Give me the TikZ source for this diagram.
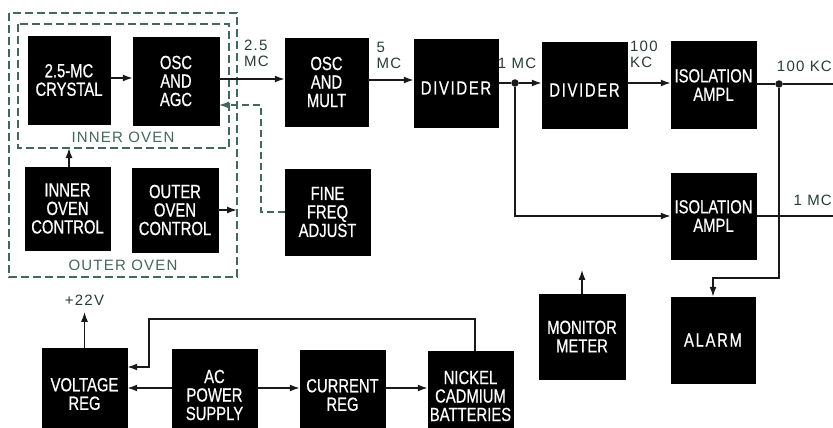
\documentclass[tikz,border=0pt]{standalone}
\usepackage{fontspec}
\setmainfont{Liberation Sans}
\newfontfamily\boxfont{Liberation Sans}[FakeStretch=0.78,FakeBold=0.6]
\newfontfamily\labfont{Liberation Sans}[LetterSpace=8]
\usetikzlibrary{arrows.meta}
\definecolor{ovencol}{rgb}{0.27,0.40,0.37}
\definecolor{labcol}{rgb}{0.16,0.24,0.22}
\definecolor{linecol}{rgb}{0.1,0.1,0.1}
\tikzset{
  blk/.style={fill=black,draw=black,text=white,align=center,inner sep=0pt,
    font=\boxfont\fontsize{19}{18.5}\selectfont},
  wide/.style={font=\boxfont\fontsize{19}{18.5}\selectfont\addfontfeature{LetterSpace=9}},
  lowtext/.style={execute at begin node={\rule{0pt}{23pt}}},
  conn/.style={draw=linecol,line width=1.6pt},
  arr/.style={conn,-{Latex[length=10pt,width=7pt]}},
  ovenbox/.style={draw=ovencol,line width=1.4pt,dash pattern=on 8pt off 4pt},
  dl/.style={draw=ovencol,line width=1.3pt,dash pattern=on 7pt off 4pt,-{Latex[length=10pt,width=7pt]}},
  ovenlab/.style={text=ovencol,font=\labfont\fontsize{15}{17}\selectfont,inner sep=0pt},
  lab/.style={text=labcol,font=\labfont\fontsize{15}{16}\selectfont,inner sep=0pt,align=left},
  dot/.style={circle,fill=linecol,minimum size=7.5pt,inner sep=0pt}
}
\begin{document}
\begin{tikzpicture}[x=1pt,y=-1pt]
\clip (0,0) rectangle (833,428);
\fill[white] (0,0) rectangle (833,428);
% oven enclosures
\draw[ovenbox] (9,13) rectangle (237,277);
\draw[ovenbox] (18,24) rectangle (229,148);
\node[ovenlab] (innerlab) at (123,137) {INNER OVEN};
\node[ovenlab] (outerlab) at (123,265) {OUTER OVEN};
% blocks
\node[blk,lowtext,minimum width=82pt,minimum height=88pt] (crystal) at (69,80) {2.5-MC\\CRYSTAL};
\node[blk,lowtext,minimum width=86pt,minimum height=88pt] (oscagc) at (176,81) {OSC\\AND\\AGC};
\node[blk,minimum width=85pt,minimum height=83pt] (innerctl) at (67.5,208.5) {INNER\\OVEN\\CONTROL};
\node[blk,minimum width=86pt,minimum height=84pt] (outerctl) at (175,210) {OUTER\\OVEN\\CONTROL};
\node[blk,lowtext,minimum width=83pt,minimum height=88pt] (oscmult) at (326.5,82) {OSC\\AND\\MULT};
\node[blk,minimum width=85pt,minimum height=86pt] (fine) at (327.5,212) {FINE\\FREQ\\ADJUST};
\node[blk,wide,lowtext,minimum width=84pt,minimum height=88pt] (div1) at (456,83) {DIVIDER};
\node[blk,wide,lowtext,minimum width=85pt,minimum height=86pt] (div2) at (584.5,85) {DIVIDER};
\node[blk,lowtext,minimum width=85pt,minimum height=87pt] (iso1) at (713.5,85) {ISOLATION\\AMPL};
\node[blk,minimum width=85pt,minimum height=86pt] (iso2) at (713.5,216) {ISOLATION\\AMPL};
\node[blk,minimum width=86pt,minimum height=85pt] (monitor) at (582,336.5) {MONITOR\\METER};
\node[blk,wide,minimum width=84pt,minimum height=86pt] (alarm) at (713,340) {ALARM};
\node[blk,minimum width=85pt,minimum height=92pt] (volt) at (84.5,394) {VOLTAGE\\REG};
\node[blk,minimum width=85pt,minimum height=92pt] (acps) at (214.5,395) {AC\\POWER\\SUPPLY};
\node[blk,minimum width=85pt,minimum height=90pt] (curr) at (342.5,395) {CURRENT\\REG};
\node[blk,minimum width=85pt,minimum height=90pt] (nicd) at (470.5,396) {NICKEL\\CADMIUM\\BATTERIES};
% junctions and free ends
\node[dot] (j1) at (515,83) {};
\node[dot] (j2) at (779,84) {};
\coordinate (out100) at (833,84);
\coordinate (out1) at (833,216);
\coordinate (innerwall) at (69,148);
\coordinate (outerwall) at (237,210);
\coordinate (agcin) at (219,105);
\coordinate (ffturn) at (261,105);
\coordinate (fbturn) at (149,319);
% signal chain
\draw[arr] (crystal.east |- 0,78) -- (oscagc.west |- 0,78);
\draw[arr] (oscagc.east |- 0,79) -- (oscmult.west |- 0,79);
\draw[arr] (oscmult.east |- 0,80) -- (div1.west |- 0,80);
\draw[conn] (div1.east |- j1) -- (j1);
\draw[arr] (j1) -- (j1 -| div2.west);
\draw[arr] (div2.east |- 0,83) -- (iso1.west |- 0,83);
\draw[conn] (iso1.east |- j2) -- (j2) -- (out100);
\draw[arr] (j1) |- (iso2.west);
\draw[conn] (iso2.east) -- (out1);
\draw[arr] (j2) -- ++(0,194) -| (alarm.north);
\draw[arr] (monitor.north) -- ++(0,-24);
% oven controls
\draw[arr] (innerctl.north -| innerwall) -- (innerwall);
\draw[arr] (outerctl.east |- outerwall) -- (outerwall);
\draw[dl] (fine.west) -| (ffturn) -- (agcin);
% power
\draw[arr] (volt.north) -- ++(0,-36) node[lab,above=6pt,anchor=south] (v22) {+22V};
\draw[arr] (acps.west |- 0,388) -- (volt.east |- 0,388);
\draw[arr] (acps.east |- 0,388) -- (curr.west |- 0,388);
\draw[arr] (curr.east |- 0,388) -- (nicd.west |- 0,388);
\draw[arr] ([xshift=4.5pt]nicd.north) |- (fbturn) |- ([yshift=27pt]volt.east);
% labels
\node[lab,anchor=west] (l25) at (244,53) {2.5\\MC};
\node[lab] (l5) at (389,55) {\hfil 5\hfil\\MC};
\node[lab] (l1mc) at (517,63) {1 MC};
\node[lab,anchor=west] (l100) at (630,54) {100\\KC};
\node[lab,anchor=east] (l100kc) at (832,66) {100 KC};
\node[lab,anchor=east] (l1mc2) at (832,200) {1 MC};
\end{tikzpicture}
\end{document}
